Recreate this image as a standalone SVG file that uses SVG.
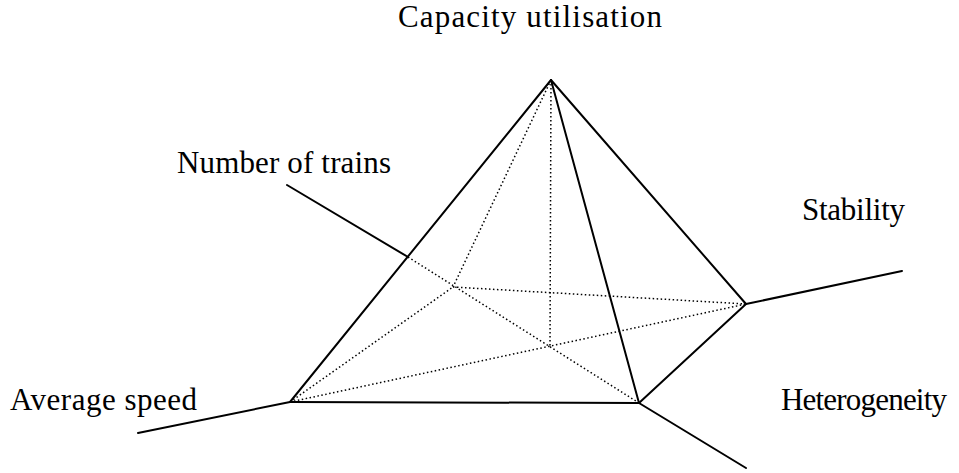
<svg xmlns="http://www.w3.org/2000/svg" width="959" height="473" viewBox="0 0 959 473">
<style>
.s{stroke:#000;stroke-width:2;fill:none;stroke-linecap:round}
.d{stroke:#000;stroke-width:1.5;fill:none;stroke-dasharray:1.5 2.5}
text{font-family:"Liberation Serif","Times New Roman",serif;font-size:31px;fill:#000}
</style>
<rect width="959" height="473" fill="#fff"/>
<g id="connectors">
<line class="d" x1="551" y1="80" x2="550" y2="347"/>
<line class="d" x1="551" y1="80" x2="453" y2="287"/>
<line class="d" x1="290" y1="402" x2="453" y2="287"/>
<line class="d" x1="290" y1="402" x2="746" y2="304"/>
<line class="d" x1="453" y1="287" x2="746" y2="304"/>
<line class="d" x1="408" y1="257" x2="639" y2="403"/>
<line class="s" x1="551" y1="80" x2="290" y2="402"/>
<line class="s" x1="551" y1="80" x2="639" y2="403"/>
<line class="s" x1="551" y1="80" x2="746" y2="304"/>
<line class="s" x1="290" y1="402" x2="639" y2="403"/>
<line class="s" x1="639" y1="403" x2="746" y2="304"/>
<line class="s" x1="138" y1="433" x2="290" y2="402"/>
<line class="s" x1="746" y1="304" x2="902" y2="271"/>
<line class="s" x1="639" y1="403" x2="746" y2="468"/>
<line class="s" x1="287" y1="185" x2="408" y2="257"/>
</g>
<g id="capacity"><text x="398" y="27" textLength="264" lengthAdjust="spacing">Capacity utilisation</text></g>
<g id="trains"><text x="177" y="173" textLength="214" lengthAdjust="spacing">Number of trains</text></g>
<g id="stability"><text x="802" y="220" textLength="103" lengthAdjust="spacing">Stability</text></g>
<g id="speed"><text x="10" y="410" textLength="187" lengthAdjust="spacing">Average speed</text></g>
<g id="heterogeneity"><text x="781" y="410" textLength="166" lengthAdjust="spacing">Heterogeneity</text></g>
</svg>
